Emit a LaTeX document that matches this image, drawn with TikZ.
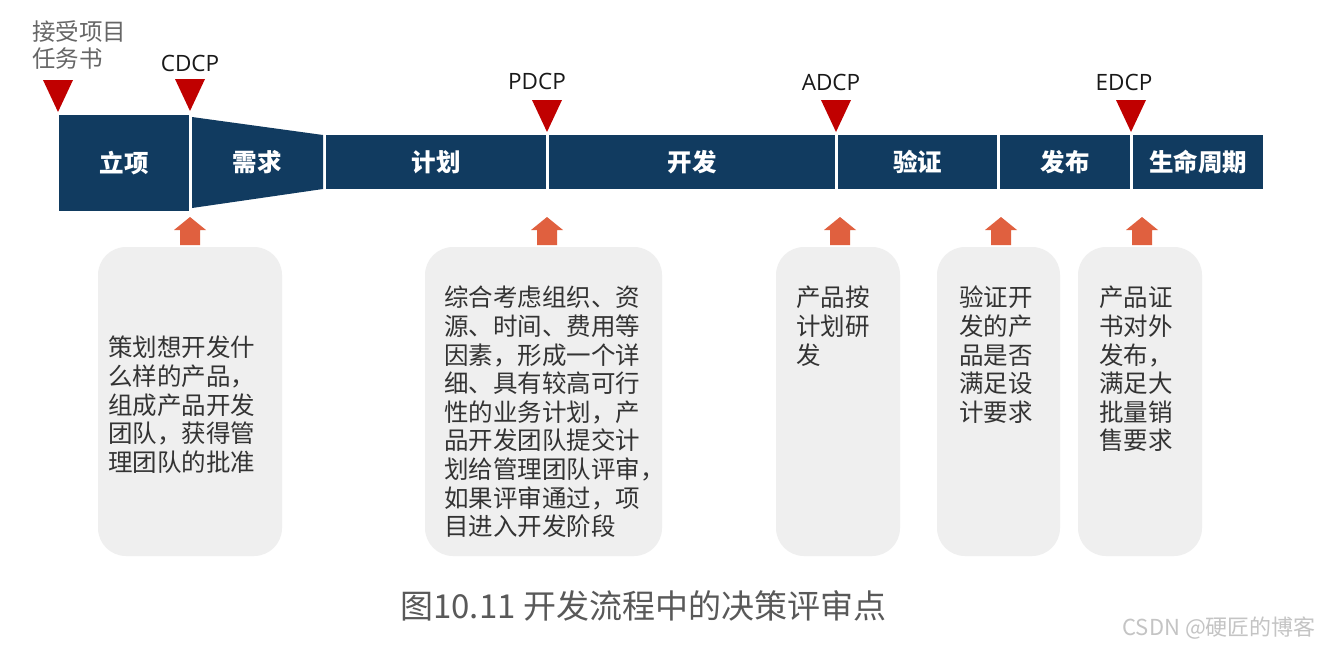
\documentclass[tikz,border=0pt]{standalone}
\usepackage{fontspec}
\newfontfamily\cjk{Noto Sans CJK SC}
\newfontfamily\latin{Open Sans}
\definecolor{navy}{HTML}{113B60}
\definecolor{tri}{HTML}{C00000}
\definecolor{orng}{HTML}{E0603F}
\definecolor{boxg}{HTML}{EFEFEF}
\definecolor{txt}{HTML}{333333}
\definecolor{capc}{HTML}{595959}
\definecolor{wm}{HTML}{C4C4C4}
\tikzset{
  seg/.style={fill=navy, inner sep=0pt, text=white, font=\cjk\bfseries\fontsize{24.5}{28}\selectfont},
  seglabel/.style={text=white, inner sep=0pt, font=\cjk\bfseries\fontsize{24.5}{28}\selectfont},
  dcp/.style={inner sep=0pt, text=black!90, font=\latin\fontsize{22.5}{26}\selectfont},
  card/.style={fill=boxg, rounded corners=28pt, inner sep=0pt, minimum height=309pt},
  cardtext/.style={anchor=north west, inner sep=0pt, align=left, text=txt, font=\cjk\fontsize{24.5}{28.6}\selectfont},
  gate/.pic={\fill[tri] (-15,0) -- (15,0) -- (0,32) -- cycle;},
  riser/.pic={\fill[orng] (0,0) -- (16,13) -- (10,13) -- (10,28) -- (-10,28) -- (-10,13) -- (-16,13) -- cycle;}
}
\begin{document}
\begin{tikzpicture}[x=1pt,y=-1pt]
\useasboundingbox[fill=white] (0,0) rectangle (1321,649);

% top-left note
\node[anchor=north west, inner sep=0pt, align=left, text=black!60, font=\cjk\fontsize{23.5}{27}\selectfont] (start) at (32,20) {接受项目\\任务书};

% bar
\node[seg, minimum width=130pt, minimum height=96pt] (lx) at (124,163) {立项};
\fill[navy] (192,117) -- (323,135) -- (323,189) -- (192,208) -- cycle;
\node[seglabel] (xq) at (257,162) {需求};
\node[seg, minimum width=220pt, minimum height=54pt] (jh) at (436,162) {计划};
\node[seg, minimum width=286pt, minimum height=54pt] (kf) at (692,162) {开发};
\node[seg, minimum width=159pt, minimum height=54pt] (yz) at (917.5,162) {验证};
\node[seg, minimum width=130pt, minimum height=54pt] (fb) at (1065,162) {发布};
\node[seg, minimum width=130pt, minimum height=54pt] (sm) at (1198,162) {生命周期};

% gates
\pic at (58,80) {gate};
\pic at (190,79) {gate};
\pic at (547,100) {gate};
\pic at (836,100) {gate};
\pic at (1131,100) {gate};

\node[dcp] (cdcp) at (190,63) {CDCP};
\node[dcp] (pdcp) at (537,81) {PDCP};
\node[dcp] (adcp) at (831,82) {ADCP};
\node[dcp] (edcp) at (1124,82) {EDCP};

% up arrows
\pic at (190,217) {riser};
\pic at (547,217) {riser};
\pic at (840,217) {riser};
\pic at (1001,217) {riser};
\pic at (1142,217) {riser};

% cards
\node[card, minimum width=184pt] (c1) at (190,401.5) {};
\node[card, minimum width=237pt] (c2) at (543.5,401.5) {};
\node[card, minimum width=124pt] (c3) at (838,401.5) {};
\node[card, minimum width=123pt] (c4) at (998.5,401.5) {};
\node[card, minimum width=124pt] (c5) at (1140,401.5) {};

\node[cardtext] (t1) at (108,336) {策划想开发什\\么样的产品，\\组成产品开发\\团队，获得管\\理团队的批准};
\node[cardtext] (t2) at (444,286) {综合考虑组织、资\\源、时间、费用等\\因素，形成一个详\\细、具有较高可行\\性的业务计划，产\\品开发团队提交计\\划给管理团队评审，\\如果评审通过，项\\目进入开发阶段};
\node[cardtext] (t3) at (796,286) {产品按\\计划研\\发};
\node[cardtext] (t4) at (959,286) {验证开\\发的产\\品是否\\满足设\\计要求};
\node[cardtext] (t5) at (1099,286) {产品证\\书对外\\发布，\\满足大\\批量销\\售要求};

% caption
\node[anchor=west, inner sep=0pt, text=capc, font=\cjk\fontsize{33}{37}\selectfont] (cap) at (400,606) {图10.11 开发流程中的决策评审点};
\node[anchor=east, inner sep=0pt, text=wm, font=\cjk\fontsize{22}{26}\selectfont] (wmark) at (1316,628) {CSDN @硬匠的博客};
\end{tikzpicture}
\end{document}
